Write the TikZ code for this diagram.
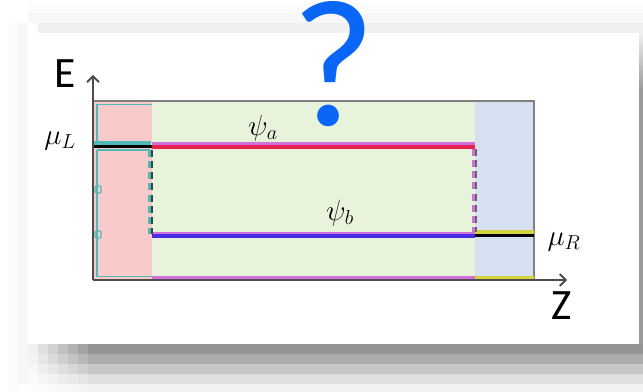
\documentclass[tikz,border=0pt]{standalone}
\usepackage{fontspec}
\setsansfont{Carlito}
\usepackage{tikz}
\usetikzlibrary{positioning,arrows.meta}
\definecolor{leadpink}{HTML}{F9CACA}
\definecolor{wiregreen}{HTML}{E8F3DC}
\definecolor{leadblue}{HTML}{D6E0F1}
\definecolor{askblue}{HTML}{0A66F5}
\definecolor{edgeteal}{HTML}{4FB8B8}
\definecolor{levelred}{HTML}{E8224E}
\definecolor{levelblue}{HTML}{4A2BE6}
\definecolor{levelmag}{HTML}{D070D8}
\definecolor{levelyel}{HTML}{D4D43C}

\begin{document}
\begin{tikzpicture}[x=0.3mm,y=-0.3mm,
  axis/.style={draw=black!70,line width=1.6pt,-{Straight Barb[length=5pt,width=10pt]}},
  level/.style={line width=3.2pt},
  tunnel/.style={line width=2.6pt,dash pattern=on 6pt off 3.5pt},
  axlabel/.style={font=\sffamily\fontsize{37}{37}\selectfont,inner sep=0pt},
  mathlabel/.style={font=\fontsize{26}{26}\selectfont,inner sep=0pt}]
  % ---- card with its shadow ----
  \useasboundingbox (0,0) rectangle (643,392);
  \fill[white] (0,0) rectangle (643,392);
  \fill[black!1] (28,3) rectangle (643,13);
  \fill[black!3] (28,13) rectangle (643,23);
  \fill[black!6] (38,23) rectangle (643,33);
  \fill[black!1] (8,23) rectangle (18,392);
  \fill[black!3] (18,23) rectangle (28,384);
  \foreach \y/\g in {344/42,354/33,364/22,374/12,384/5}{
    \foreach \c in {0,...,5}{
      \pgfmathsetmacro\shadeval{\g*(\c+1)/7}
      \fill[black!\shadeval] ({28+10*\c},\y) rectangle ({38+10*\c},\y+10);
    }
    \fill[black!\g] (88,\y) rectangle (643,\y+10);
  }
  \shade[top color=black!6,bottom color=black!40] (639,33) rectangle (643,90);
  \fill[black!40] (639,90) rectangle (643,344);
  \fill[white] (28,33) rectangle (639,344);
  % ---- leads and wire ----
  \fill[leadpink] (93,101) rectangle (152,280);
  \fill[wiregreen] (152,101) rectangle (475,280);
  \fill[leadblue] (475,101) rectangle (534,280);
  \draw[black!50,line width=1.6pt] (93,101) -- (534,101) -- (534,280);
  \draw[edgeteal,line width=1.6pt] (97,104.5) -- (152,104.5) (97,104.5) -- (97,142)
    (97,150) -- (97,276.5) -- (152,276.5) (97,150) -- (150,150);
  \draw[edgeteal,line width=1.1pt,rounded corners=1pt] (95,186) rectangle (101,193)
    (95,231) rectangle (101,238);
  % ---- levels ----
  \draw[edgeteal,line width=3.2pt] (93,143) -- (151,143);
  \draw[black,level] (93,146.5) -- (152,146.5);
  \draw[levelmag,line width=4.4pt] (152,145) -- (475,145);
  \draw[levelred,line width=2.6pt] (152,147) -- (475,147);
  \draw[levelmag,line width=2.4pt] (152,233) -- (475,233);
  \draw[levelblue,line width=2.8pt] (152,236) -- (475,236);
  \draw[levelyel,line width=2.6pt] (475,232) -- (534,232);
  \draw[black,level] (475,235.5) -- (534,235.5);
  \draw[levelmag,line width=2.2pt] (152,277.5) -- (475,277.5);
  \draw[levelyel,line width=2.2pt] (475,277.5) -- (534,277.5);
  % tunnelling steps
  \draw[edgeteal,tunnel] (150,150) -- (150,234);
  \draw[black!75,line width=1.3pt,dash pattern=on 6pt off 3.5pt] (152,150) -- (152,234);
  \draw[levelmag,tunnel] (474,149) -- (474,232);
  \draw[black!60,line width=1.3pt,dash pattern=on 6pt off 3.5pt] (476,149) -- (476,232);
  % ---- axes ----
  \coordinate (O) at (93,280);
  \coordinate (Etip) at (93,75);
  \coordinate (Ztip) at (567,280);
  \draw[axis] (O) -- (Etip);
  \draw[axis] (O) -- (Ztip);
  \node[axlabel] (E) at (65,74) {E};
  \node[axlabel] (Z) at (562,306) {Z};
  \node[mathlabel] (muL) at (60,141) {$\mu_L$};
  \node[mathlabel] (muR) at (564,242) {$\mu_R$};
  \node[mathlabel] (psia) at (263,128) {$\psi_a$};
  \node[mathlabel] (psib) at (340,213) {$\psi_b$};
  \node[font=\sffamily\fontsize{155}{155}\selectfont,text=askblue,inner sep=0pt,
    text height=100pt,text depth=0pt,anchor=base] (ask) at (334,126) {?};
\end{tikzpicture}
\end{document}
